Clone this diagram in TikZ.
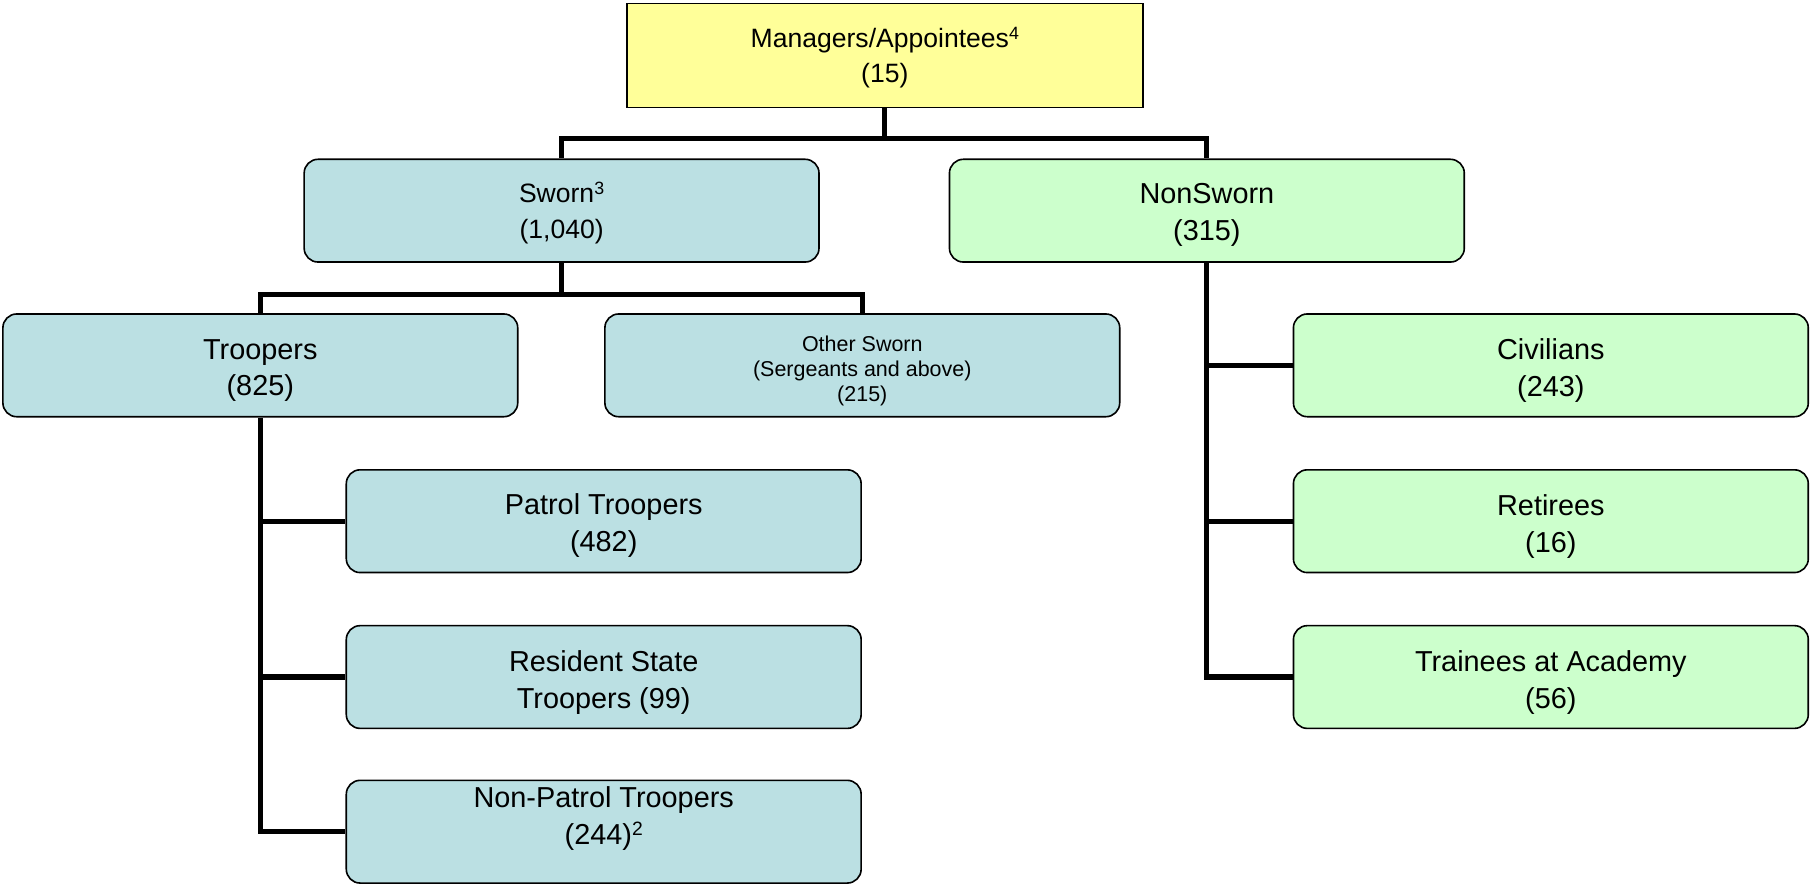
\documentclass[tikz,border=0pt]{standalone}
\usepackage{fontspec}
\setmainfont{Liberation Sans}
\definecolor{boxblue}{RGB}{187,224,227}
\definecolor{boxgreen}{RGB}{204,255,204}
\definecolor{boxyellow}{RGB}{255,255,153}
\newcommand\mainsz{\fontsize{25}{32}\selectfont}
\newcommand\midsz{\fontsize{23}{30.5}\selectfont}
\newcommand\smlsz{\fontsize{18.6}{21.7}\selectfont}
\newcommand\supnum[1]{\raisebox{0.3em}{\scalebox{0.67}{#1}}}
\begin{document}
\begin{tikzpicture}[x=1pt,y=-1pt,
  box/.style={draw=black, line width=1.4pt, rounded corners=12pt,
    minimum width=446pt, minimum height=89pt, inner sep=0pt},
  txt/.style={inner sep=0pt, align=center, font=\mainsz},
  conn/.style={draw=black, line width=4.5pt, line join=miter}]
\useasboundingbox (0,0) rectangle (1568,767.5);
% boxes
\node[box, fill=boxyellow, rounded corners=0pt, minimum width=447pt,
  minimum height=90pt] (mgr) at (766.5,48) {};
\node[box, fill=boxblue] (sworn) at (486.5,182.5) {};
\node[box, fill=boxgreen] (nonsworn) at (1045.5,182.5) {};
\node[box, fill=boxblue] (troopers) at (225.5,316.5) {};
\node[box, fill=boxblue] (other) at (747,316.5) {};
\node[box, fill=boxgreen] (civ) at (1343.5,316.5) {};
\node[box, fill=boxgreen] (ret) at (1343.5,451.5) {};
\node[box, fill=boxgreen] (trn) at (1343.5,586.5) {};
\node[box, fill=boxblue] (patrol) at (523,451.5) {};
\node[box, fill=boxblue] (resident) at (523,586.5) {};
\node[box, fill=boxblue] (nonpatrol) at (523,720.5) {};
% texts
\node[txt, font=\midsz] (mgrtxt) at ([yshift=-2pt]mgr.center)
  {Managers/Appointees\supnum{4}\\(15)};
\node[txt, font=\midsz] (sworntxt) at ([yshift=-2pt]sworn.center)
  {Sworn\supnum{3}\\(1,040)};
\node[txt] (nonsworntxt) at ([yshift=-4pt]nonsworn.center) {NonSworn\\(315)};
\node[txt] (trooperstxt) at ([yshift=-4.5pt]troopers.center) {Troopers\\(825)};
\node[txt, font=\smlsz] (othertxt) at ([yshift=-5pt]other.center)
  {Other Sworn\\(Sergeants and above)\\(215)};
\node[txt] (civtxt) at ([yshift=-4.5pt]civ.center) {Civilians\\(243)};
\node[txt] (rettxt) at ([yshift=-4.5pt]ret.center) {Retirees\\(16)};
\node[txt] (trntxt) at ([yshift=-4.5pt]trn.center) {Trainees at Academy\\(56)};
\node[txt] (patroltxt) at ([yshift=-4pt]patrol.center) {Patrol Troopers\\(482)};
\node[txt] (residenttxt) at ([yshift=-4.5pt]resident.center) {Resident State\\Troopers (99)};
\node[txt] (nonpatroltxt) at (523,709) {Non-Patrol Troopers\\(244)\supnum{2}};
% connectors
\coordinate (b1) at (766.5,120);
\coordinate (b2) at (486.5,255);
\draw[conn] (mgr.south) -- (b1);
\draw[conn] (sworn.north) |- (b1) -| (nonsworn.north);
\draw[conn] (sworn.south) -- (b2);
\draw[conn] (troopers.north) |- (b2) -| (other.north);
\draw[conn] (nonsworn.south) |- (trn.west);
\draw[conn] (nonsworn.south |- civ.west) -- (civ.west);
\draw[conn] (nonsworn.south |- ret.west) -- (ret.west);
\draw[conn] (troopers.south) |- (nonpatrol.west);
\draw[conn] (troopers.south |- patrol.west) -- (patrol.west);
\draw[conn] (troopers.south |- resident.west) -- (resident.west);
\end{tikzpicture}
\end{document}
